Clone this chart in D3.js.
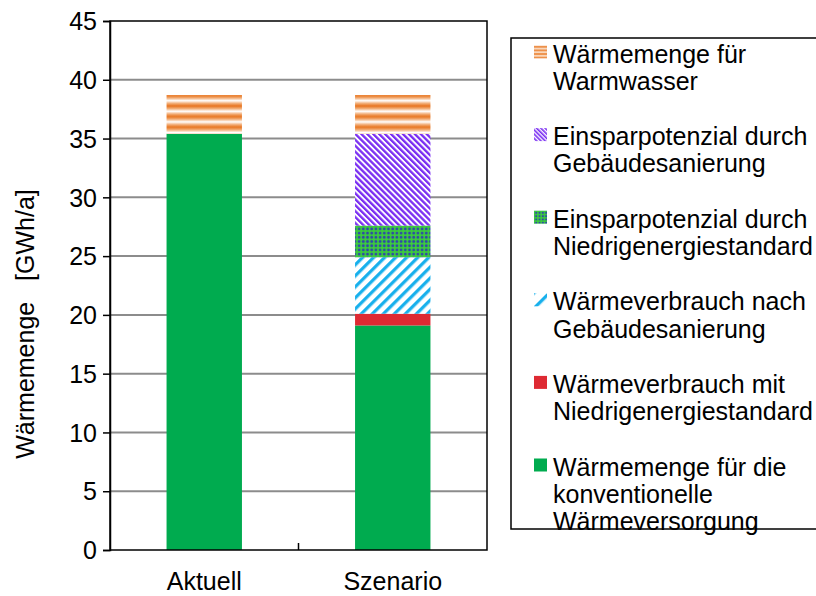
<!DOCTYPE html>
<html><head><meta charset="utf-8">
<script src="https://cdn.jsdelivr.net/npm/d3@7/dist/d3.min.js"></script>
<style>
html,body{margin:0;padding:0;background:#fff;}
svg text{font-family:"Liberation Sans",Arial,sans-serif;fill:#000;}
</style></head>
<body>
<svg id="chart" width="816" height="596"></svg>
<script>
const categories = ["Aktuell", "Szenario"];
const seriesKeys = ["konv", "verbrauchNiedrig", "verbrauchGebaeude", "einsparNiedrig", "einsparGebaeude", "warmwasser"];
const konvValues = [35.4, 19.1];
const verbrauchNiedrigValues = [0, 1.0];
const verbrauchGebaeudeValues = [0, 4.8];
const einsparNiedrigValues = [0, 2.7];
const einsparGebaeudeValues = [0, 7.8];
const warmwasserValues = [3.3, 3.3];
const yTicks = [0, 5, 10, 15, 20, 25, 30, 35, 40, 45];
const legendLabels = [
  ["Wärmemenge für", "Warmwasser"],
  ["Einsparpotenzial durch", "Gebäudesanierung"],
  ["Einsparpotenzial durch", "Niedrigenergiestandard"],
  ["Wärmeverbrauch nach", "Gebäudesanierung"],
  ["Wärmeverbrauch mit", "Niedrigenergiestandard"],
  ["Wärmemenge für die", "konventionelle", "Wärmeversorgung"]
];
const legendKeys = ["warmwasser", "einsparGebaeude", "einsparNiedrig", "verbrauchGebaeude", "verbrauchNiedrig", "konv"];
const yTitle = "Wärmemenge   [GWh/a]";

const valuesByKey = {
  konv: konvValues, verbrauchNiedrig: verbrauchNiedrigValues, verbrauchGebaeude: verbrauchGebaeudeValues,
  einsparNiedrig: einsparNiedrigValues, einsparGebaeude: einsparGebaeudeValues, warmwasser: warmwasserValues
};
const table = categories.map((c, i) => {
  const row = {category: c};
  seriesKeys.forEach(k => row[k] = valuesByKey[k][i]);
  return row;
});

const svg = d3.select("#chart");
const defs = svg.append("defs");

function orangePattern(id, h) {
  const gid = id + "g";
  const g = defs.append("linearGradient").attr("id", gid).attr("x1", 0).attr("y1", 0).attr("x2", 0).attr("y2", 1);
  g.append("stop").attr("offset", 0).attr("stop-color", "#E8741E");
  g.append("stop").attr("offset", 0.25).attr("stop-color", "#F2AE78");
  g.append("stop").attr("offset", 0.5).attr("stop-color", "#FFFFFF");
  g.append("stop").attr("offset", 0.75).attr("stop-color", "#F2AE78");
  g.append("stop").attr("offset", 1).attr("stop-color", "#E8741E");
  const p = defs.append("pattern").attr("id", id).attr("patternUnits", "userSpaceOnUse")
    .attr("width", 20).attr("height", h);
  p.append("rect").attr("width", 20).attr("height", h).attr("fill", `url(#${gid})`);
}
orangePattern("pOrange", 10.6);
orangePattern("pOrangeL", 3.6);

function stripePattern(id, period, frac, color, angle) {
  const p = defs.append("pattern").attr("id", id).attr("patternUnits", "userSpaceOnUse")
    .attr("width", period).attr("height", period).attr("patternTransform", `rotate(${angle})`);
  p.append("rect").attr("width", period).attr("height", period).attr("fill", "#fff");
  p.append("rect").attr("width", period * frac).attr("height", period).attr("fill", color);
}
stripePattern("pPurple", 4.2, 0.55, "#7A2EF2", -45);
stripePattern("pPurpleL", 3.0, 0.55, "#7A2EF2", -45);
stripePattern("pBlue", 7.8, 0.42, "#18B0EC", 45);
stripePattern("pBlueL", 11, 0.3, "#18B0EC", 45);

function dotPattern(id, s, r) {
  const p = defs.append("pattern").attr("id", id).attr("patternUnits", "userSpaceOnUse")
    .attr("width", s).attr("height", s);
  p.append("rect").attr("width", s).attr("height", s).attr("fill", "#3CCB3C");
  p.append("circle").attr("cx", s / 2).attr("cy", s / 2).attr("r", r).attr("fill", "#2F4AA8");
}
dotPattern("pDots", 4.2, 1.4);
dotPattern("pDotsL", 3.3, 1.1);

const fills = {
  konv: "#00AB4F", verbrauchNiedrig: "#DE2A33", verbrauchGebaeude: "url(#pBlue)",
  einsparNiedrig: "url(#pDots)", einsparGebaeude: "url(#pPurple)", warmwasser: "url(#pOrange)"
};
const legendFills = {
  konv: "#00AB4F", verbrauchNiedrig: "#DE2A33", verbrauchGebaeude: "url(#pBlueL)",
  einsparNiedrig: "url(#pDotsL)", einsparGebaeude: "url(#pPurpleL)", warmwasser: "url(#pOrangeL)"
};

const pLeft = 110, pRight = 487, pTop = 21, pBottom = 550;
const y = d3.scaleLinear().domain([0, 45]).range([pBottom, pTop]);
const x = d3.scaleBand().domain(categories).range([pLeft, pRight]).paddingInner(0.6).paddingOuter(0.3);

svg.append("g").selectAll("line").data(yTicks.filter(t => t > 0 && t < 45)).join("line")
  .attr("x1", pLeft).attr("x2", pRight).attr("y1", d => y(d)).attr("y2", d => y(d))
  .attr("stroke", "#8C8C8C").attr("stroke-width", 2);

const stack = d3.stack().keys(seriesKeys)(table);
svg.append("g").selectAll("g").data(stack).join("g")
  .attr("fill", d => fills[d.key])
  .selectAll("rect").data(d => d.filter(s => s[1] - s[0] > 0)).join("rect")
  .attr("x", d => x(d.data.category)).attr("width", x.bandwidth())
  .attr("y", d => y(d[1])).attr("height", d => y(d[0]) - y(d[1]));

svg.append("rect").attr("x", pLeft).attr("y", pTop).attr("width", pRight - pLeft).attr("height", pBottom - pTop)
  .attr("fill", "none").attr("stroke", "#000").attr("stroke-width", 1.5);

const yAxis = d3.axisLeft(y).tickValues(yTicks).tickSize(7).tickPadding(6);
const ya = svg.append("g").attr("transform", `translate(${pLeft},0)`).call(yAxis);
ya.select(".domain").attr("stroke", "#000").attr("stroke-width", 1.5);
ya.selectAll(".tick line").attr("stroke", "#000").attr("stroke-width", 1.5);
ya.selectAll("text").attr("font-size", 25).attr("fill", "#000").attr("dy", "0.35em")
  .style("font-family", "'Liberation Sans', Arial, sans-serif");

const xa = svg.append("g").attr("transform", `translate(0,${pBottom})`)
  .call(d3.axisBottom(x).tickSize(0).tickPadding(22));
xa.select(".domain").remove();
xa.selectAll("text").attr("font-size", 25).attr("fill", "#000")
  .style("font-family", "'Liberation Sans', Arial, sans-serif");
const sep = (x(categories[0]) + x.bandwidth() + x(categories[1])) / 2;
svg.append("line").attr("x1", sep).attr("x2", sep).attr("y1", pBottom - 7).attr("y2", pBottom)
  .attr("stroke", "#000").attr("stroke-width", 1.5);

svg.append("text").attr("transform", "translate(34,324) rotate(-90)")
  .attr("text-anchor", "middle").attr("font-size", 25)
  .style("white-space", "pre").text(yTitle);

const lg = svg.append("g");
lg.append("rect").attr("x", 511).attr("y", 38).attr("width", 400).attr("height", 491)
  .attr("fill", "#fff").attr("stroke", "#000").attr("stroke-width", 1.5);
legendKeys.forEach((k, i) => {
  const base = 62.5 + i * 82.6;
  lg.append("rect").attr("x", 534).attr("y", base - 17).attr("width", 13).attr("height", 13)
    .attr("fill", legendFills[k]);
  const t = lg.append("text").attr("x", 553).attr("y", base).attr("font-size", 25);
  legendLabels[i].forEach((line, j) => {
    t.append("tspan").attr("x", 553).attr("y", base + j * 27.3).text(line);
  });
});
</script>
</body></html>
